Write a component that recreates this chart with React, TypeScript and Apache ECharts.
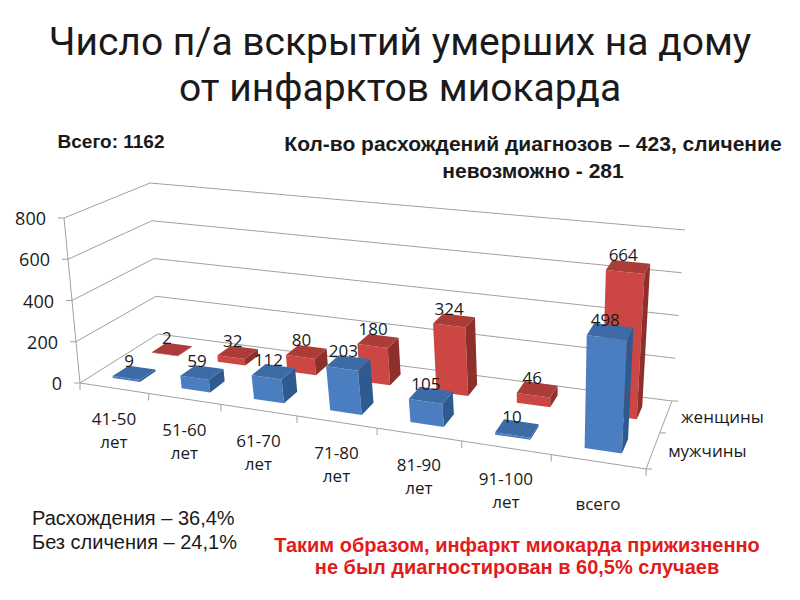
import React, { useEffect, useRef } from 'react';
import * as echarts from 'echarts';

// ---------- data ----------
const categories = ['41-50\nлет', '51-60\nлет', '61-70\nлет', '71-80\nлет', '81-90\nлет', '91-100\nлет', 'всего'];
const seriesNames = ['мужчины', 'женщины'];
const menValues = [9, 59, 112, 203, 105, 10, 498];
const womenValues = [2, 32, 80, 180, 324, 46, 664];
const yTicks = [0, 200, 400, 600, 800];
const yMax = 800;

const titleLines = ['Число п/а вскрытий умерших на дому', 'от инфарктов миокарда'];
const totalText = 'Всего: 1162';
const subtitleLines = ['Кол-во расхождений диагнозов – 423, сличение', 'невозможно - 281'];
const noteLines = ['Расхождения – 36,4%', 'Без сличения – 24,1%'];
const conclusionLines = ['Таким образом, инфаркт миокарда прижизненно', 'не был диагностирован в 60,5% случаев'];

// ---------- layout (pseudo-3D projection of the plot box) ----------
const FLOOR = [[80, 383], [646, 469], [672, 401], [158, 334]]; // (u,w): (0,0),(1,0),(1,1),(0,1)
const TOP = [[64, 218], [658, 284], [685, 230], [150, 183]];
const BAR_W = 0.4; // fraction of a category band
const BAR_D = 0.4; // fraction of a depth row
const ROWS = 2;
const GRID_COLOR = '#a0a0a0';
const TEXT_COLOR = '#1a1a1a';
const FONT = '"Open Sans", sans-serif';
const ARIAL = '"Liberation Sans", Arial, sans-serif';

const COLORS = [
  { front: '#4a7ec0', top: '#3d6ba6', side: '#2f5a90' },
  { front: '#cc4743', top: '#ab3c37', side: '#8f2f2b' },
];

function makeH(q: number[][]) {
  const [x0, y0] = q[0], [x1, y1] = q[1], [x2, y2] = q[2], [x3, y3] = q[3];
  const dx1 = x1 - x2, dx2 = x3 - x2, dx3 = x0 - x1 + x2 - x3;
  const dy1 = y1 - y2, dy2 = y3 - y2, dy3 = y0 - y1 + y2 - y3;
  const den = dx1 * dy2 - dx2 * dy1;
  const g = (dx3 * dy2 - dx2 * dy3) / den;
  const h = (dx1 * dy3 - dx3 * dy1) / den;
  const a = x1 - x0 + g * x1, b = x3 - x0 + h * x3, c = x0;
  const d = y1 - y0 + g * y1, e = y3 - y0 + h * y3, f = y0;
  return (u: number, v: number) => {
    const w = g * u + h * v + 1;
    return [(a * u + b * v + c) / w, (d * u + e * v + f) / w];
  };
}
const HF = makeH(FLOOR);
const HT = makeH(TOP);
function proj(u: number, w: number, t: number) {
  const a = HF(u, w), b = HT(u, w);
  return [a[0] + (b[0] - a[0]) * t, a[1] + (b[1] - a[1]) * t];
}

function line(p: number[], q: number[], color = GRID_COLOR) {
  return { type: 'line', shape: { x1: p[0], y1: p[1], x2: q[0], y2: q[1] }, style: { stroke: color, lineWidth: 1 } };
}
function txt(x: number, y: number, text: string, align: string, extra: any = {}) {
  return {
    type: 'text', x, y,
    style: {
      text, fill: TEXT_COLOR, fontFamily: FONT, fontSize: 16,
      align, textAlign: align, verticalAlign: 'middle', textVerticalAlign: 'middle', ...extra,
    },
  };
}

function wallsRender(params: any, api: any) {
  const cs = params.coordSys;
  const v = api.value(1);
  const p = api.coord([0, v]);
  const t = (cs.y + cs.height - p[1]) / cs.height;
  const fl = proj(0, 0, t), bl = proj(0, 1, t), br = proj(1, 1, t);
  const children: any[] = [
    line(fl, bl),
    line(bl, br),
    line([fl[0] - 6, fl[1]], fl),
    txt(fl[0] - 18, fl[1], String(v), 'right', { fontSize: 18 }),
  ];
  if (params.dataIndex === 0) {
    const topP = api.coord([0, yMax]);
    const tt = (cs.y + cs.height - topP[1]) / cs.height;
    children.push(line(proj(0, 0, 0), proj(0, 0, tt)));
  }
  return { type: 'group', children };
}

function categoryRender(params: any, api: any) {
  const cs = params.coordSys;
  const i = api.value(0);
  const p = api.coord([i, 0]);
  const band = api.size([1, 0])[0];
  const uL = (p[0] - band / 2 - cs.x) / cs.width;
  const uR = (p[0] + band / 2 - cs.x) / cs.width;
  const uc = (p[0] - cs.x) / cs.width;
  const a = proj(uL, 0, 0), b = proj(uR, 0, 0), c = proj(uc, 0, 0);
  const children: any[] = [line(a, b), line(a, [a[0], a[1] + 7])];
  if (params.dataIndex === categories.length - 1) children.push(line(b, [b[0], b[1] + 7]));
  children.push(txt(c[0], c[1] + 42, categories[i], 'center', { lineHeight: 23, fontSize: 17 }));
  return { type: 'group', children };
}

function depthRender(params: any, api: any) {
  const r = params.dataIndex;
  const a = proj(1, r / ROWS, 0), b = proj(1, (r + 1) / ROWS, 0), c = proj(1, (r + 0.5) / ROWS, 0);
  const children: any[] = [line(a, b), line(a, [a[0] + 6, a[1]])];
  if (r === ROWS - 1) children.push(line(b, [b[0] + 6, b[1]]));
  children.push(txt(c[0] + 15, c[1], seriesNames[r], 'left', { fontSize: 17 }));
  return { type: 'group', children };
}

function barRender(row: number) {
  const col = COLORS[row];
  return (params: any, api: any) => {
    const cs = params.coordSys;
    const i = api.value(0), v = api.value(1);
    const p = api.coord([i, v]);
    const band = api.size([1, 0])[0];
    const uc = (p[0] - cs.x) / cs.width;
    const t = (cs.y + cs.height - p[1]) / cs.height;
    const hw = (band * BAR_W) / 2 / cs.width;
    const u0 = uc - hw, u1 = uc + hw;
    const zc = (row + 0.5) / ROWS, hd = BAR_D / ROWS / 2;
    const z0 = zc - hd, z1 = zc + hd;
    const A = proj(u0, z0, t), B = proj(u1, z0, t), C = proj(u1, z0, 0), D = proj(u0, z0, 0);
    const E = proj(u0, z1, t), F = proj(u1, z1, t), G = proj(u1, z1, 0);
    const L = proj(uc, zc, t);
    return {
      type: 'group',
      children: [
        { type: 'polygon', shape: { points: [D, C, B, A] }, style: { fill: col.front } },
        { type: 'polygon', shape: { points: [C, G, F, B] }, style: { fill: col.side } },
        { type: 'polygon', shape: { points: [A, B, F, E] }, style: { fill: col.top } },
        txt(L[0] - 5, L[1] - 12, String(v), 'center', { fontSize: 17 }),
      ],
    };
  };
}

function gText(x: number, y: number, text: string, style: any) {
  return {
    type: 'text', x, y,
    style: { text, fill: TEXT_COLOR, textAlign: 'center', textVerticalAlign: 'middle', ...style },
  };
}

export default function App() {
  const ref = useRef<HTMLDivElement>(null);
  useEffect(() => {
    document.body.style.margin = '0';
    const chart = echarts.init(ref.current!, null, { renderer: 'svg' });
    chart.setOption({
      animation: false,
      backgroundColor: '#ffffff',
      grid: { left: 80, top: 220, width: 570, height: 180 },
      xAxis: { type: 'category', data: categories, show: false },
      yAxis: { type: 'value', min: 0, max: yMax, interval: 200, show: false },
      graphic: [
        gText(400, 42, titleLines[0], { font: '39px Roboto, sans-serif' }),
        gText(400, 88, titleLines[1], { font: '39px Roboto, sans-serif' }),
        gText(111, 141, totalText, { font: `bold 19px ${ARIAL}` }),
        gText(533, 143, subtitleLines[0], { font: `bold 21px ${ARIAL}` }),
        gText(533, 170, subtitleLines[1], { font: `bold 21px ${ARIAL}` }),
        gText(32, 518, noteLines[0], { font: `20px ${ARIAL}`, textAlign: 'left' }),
        gText(32, 542, noteLines[1], { font: `20px ${ARIAL}`, textAlign: 'left' }),
        gText(517, 545, conclusionLines[0], { font: `bold 20px ${ARIAL}`, fill: '#e21b1b' }),
        gText(517, 567, conclusionLines[1], { font: `bold 20px ${ARIAL}`, fill: '#e21b1b' }),
      ],
      series: [
        { type: 'custom', name: 'walls', clip: false, silent: true, z: 1, renderItem: wallsRender, data: yTicks.map((v) => [0, v]) },
        { type: 'custom', name: 'categoryAxis', clip: false, silent: true, z: 1, renderItem: categoryRender, data: categories.map((_, i) => [i, 0]) },
        { type: 'custom', name: 'depthAxis', clip: false, silent: true, z: 1, renderItem: depthRender, data: seriesNames.map(() => [0, 0]) },
        { type: 'custom', name: seriesNames[1], clip: false, z: 2, renderItem: barRender(1), data: womenValues.map((v, i) => [i, v]) },
        { type: 'custom', name: seriesNames[0], clip: false, z: 3, renderItem: barRender(0), data: menValues.map((v, i) => [i, v]) },
      ],
    });
    return () => chart.dispose();
  }, []);
  return <div ref={ref} style={{ width: 800, height: 600 }} />;
}
